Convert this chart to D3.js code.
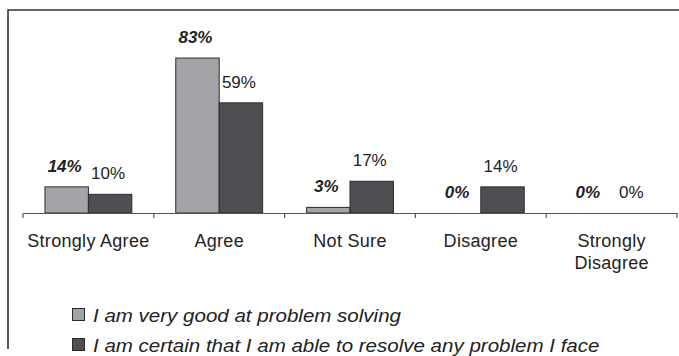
<!DOCTYPE html>
<html>
<head>
<meta charset="utf-8">
<script src="https://cdn.jsdelivr.net/npm/d3@7/dist/d3.min.js"></script>
<style>
  html, body { margin: 0; padding: 0; background: #fff; }
  svg { display: block; font-family: Arial, "Liberation Sans", Helvetica, sans-serif; }
</style>
</head>
<body>
<svg id="chart" width="679" height="356"></svg>
<script>
// Survey responses (percent of respondents)
const categories = ["Strongly Agree", "Agree", "Not Sure", "Disagree", "Strongly Disagree"];
const seriesNames = [
  "I am very good at problem solving",
  "I am certain that I am able to resolve any problem I face"
];
const problemSolving = [14, 83, 3, 0, 0];
const resolveAny = [10, 59, 17, 14, 0];
const seriesValues = [problemSolving, resolveAny];
const seriesColors = ["#a3a4a8", "#4f4f53"];

const svg = d3.select("#chart");

// Frame (left and top edges)
svg.append("path")
  .attr("d", "M8,349 L8,10 L679,10")
  .attr("fill", "none")
  .attr("stroke", "#333")
  .attr("stroke-width", 1.6);

const plot = { left: 23, right: 677, top: 26.3, bottom: 213 };

const x = d3.scaleBand()
  .domain(categories)
  .range([plot.left, plot.right])
  .paddingInner(0)
  .paddingOuter(0);

const inner = d3.scaleBand()
  .domain(d3.range(seriesValues.length))
  .range([x.bandwidth() * 0.168, x.bandwidth() * 0.832])
  .padding(0);

const y = d3.scaleLinear().domain([0, 100]).range([plot.bottom, plot.top]);

// Bars
const groups = svg.append("g").selectAll("g")
  .data(categories)
  .join("g")
  .attr("transform", d => `translate(${x(d)},0)`);

groups.selectAll("rect")
  .data((c, i) => seriesValues.map((vals, s) => ({ s, v: vals[i] })))
  .join("rect")
  .filter(d => d.v > 0)
  .attr("x", d => inner(d.s))
  .attr("y", d => y(d.v))
  .attr("width", inner.bandwidth())
  .attr("height", d => y(0) - y(d.v))
  .attr("fill", d => seriesColors[d.s])
  .attr("stroke", "#2b2b2b")
  .attr("stroke-width", 1);

// Value labels
groups.selectAll("text.val")
  .data((c, i) => seriesValues.map((vals, s) => ({ s, v: vals[i] })))
  .join("text")
  .attr("class", "val")
  .attr("x", d => inner(d.s) + inner.bandwidth() / 2 - 2)
  .attr("y", d => y(d.v) - 15)
  .attr("text-anchor", "middle")
  .attr("font-size", 17)
  .attr("font-weight", d => d.s === 0 ? "bold" : "normal")
  .attr("font-style", d => d.s === 0 ? "italic" : "normal")
  .attr("fill", "#222")
  .text(d => d.v + "%");

// Category axis
const axis = svg.append("g")
  .attr("transform", `translate(0,${plot.bottom})`)
  .call(d3.axisBottom(x).tickSize(0).tickFormat(""));
axis.select(".domain").attr("stroke", "#555").attr("stroke-width", 1.2);
axis.selectAll(".tick").remove();

const tickXs = categories.map(c => x(c)).concat([x.range()[1]]);
svg.append("g").selectAll("line")
  .data(tickXs)
  .join("line")
  .attr("x1", d => d).attr("x2", d => d)
  .attr("y1", plot.bottom).attr("y2", plot.bottom + 5)
  .attr("stroke", "#555")
  .attr("stroke-width", 1.2);

// Category labels, wrapped when wider than a band
const catLabels = svg.append("g").selectAll("text")
  .data(categories)
  .join("text")
  .attr("x", d => x(d) + x.bandwidth() / 2)
  .attr("y", 247)
  .attr("text-anchor", "middle")
  .attr("font-size", 18)
  .attr("letter-spacing", 0.3)
  .attr("fill", "#222");

catLabels.each(function(d) {
  const t = d3.select(this);
  const cx = x(d) + x.bandwidth() / 2;
  t.text(d);
  if (this.getComputedTextLength() > x.bandwidth()) {
    const words = d.split(" ");
    t.text(null);
    words.forEach((w, k) => {
      t.append("tspan").attr("x", cx).attr("dy", k === 0 ? 0 : 21.5).text(w);
    });
  }
});

// Legend
const legend = svg.append("g").selectAll("g")
  .data(seriesNames)
  .join("g")
  .attr("transform", (d, i) => `translate(72,${322 + i * 30})`);

legend.append("rect")
  .attr("x", 0.5).attr("y", -13.5)
  .attr("width", 12).attr("height", 12)
  .attr("fill", (d, i) => seriesColors[i])
  .attr("stroke", "#2b2b2b")
  .attr("stroke-width", 1);

legend.append("text")
  .attr("transform", "translate(21,0) scale(1.11,1)")
  .attr("font-size", 18.5)
  .attr("font-style", "italic")
  .attr("fill", "#222")
  .text(d => d);
</script>
</body>
</html>
